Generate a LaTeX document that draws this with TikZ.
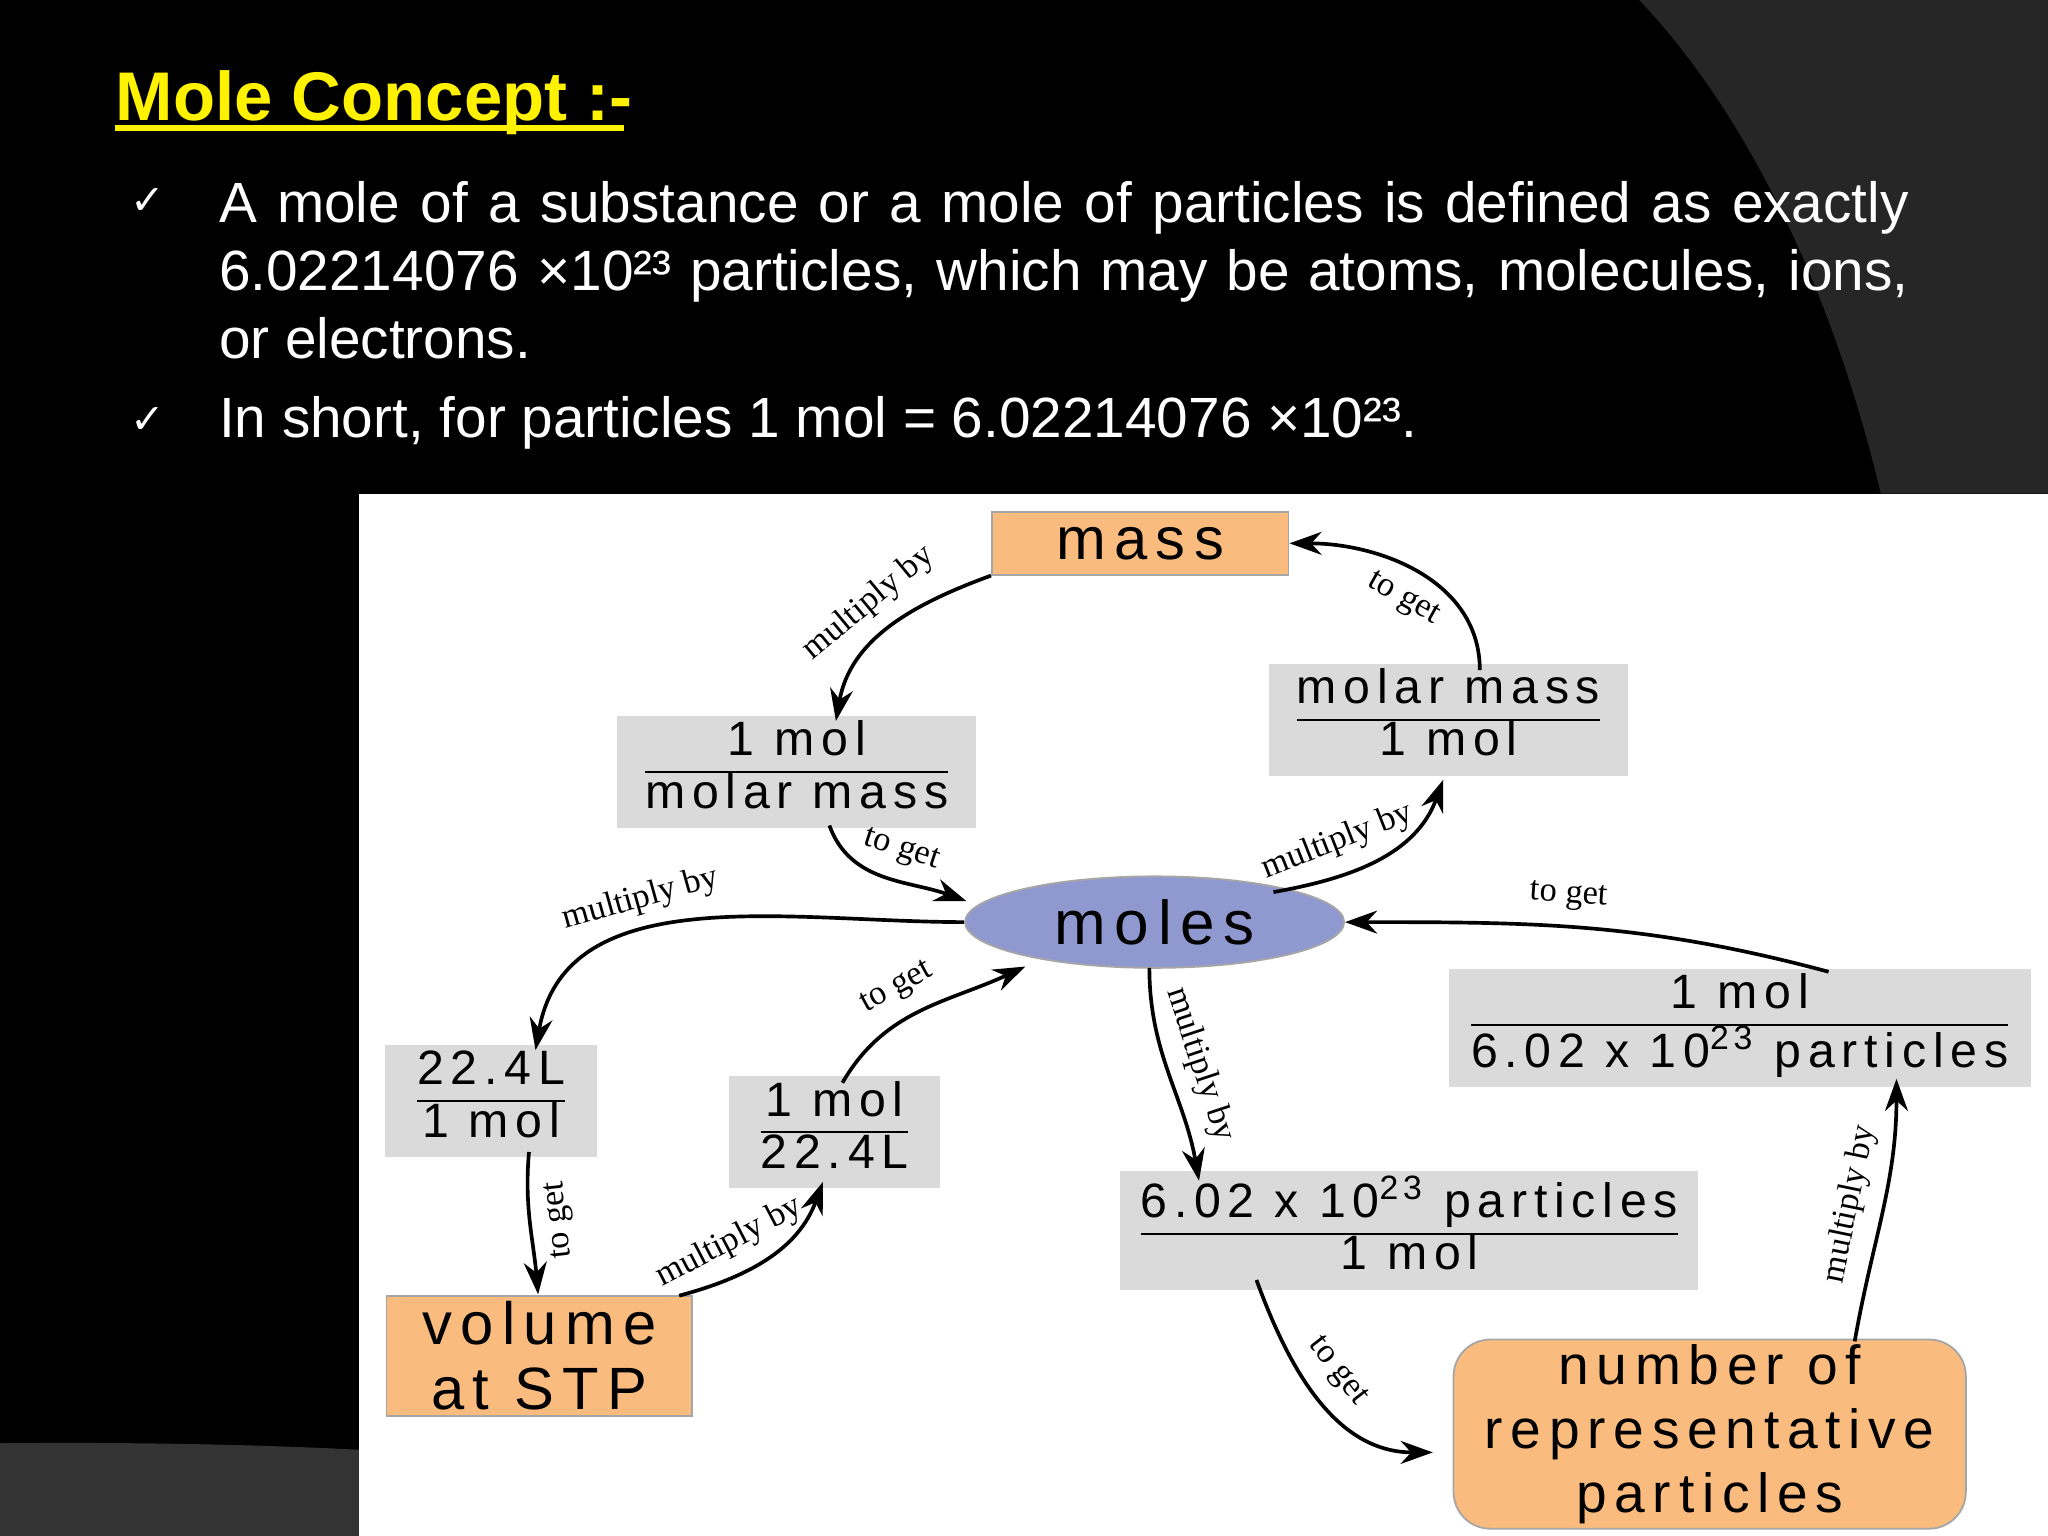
\documentclass[tikz,border=0pt]{standalone}
\usepackage{fontspec}
\setmainfont{Liberation Sans}
\newfontfamily\djsans{DejaVu Sans}
\newfontfamily\lserif{Liberation Serif}
\newfontfamily\spaced[LetterSpace=14]{Liberation Sans}
\usetikzlibrary{arrows.meta,shapes.geometric}
\definecolor{orng}{HTML}{F9BC7E}
\definecolor{gbox}{HTML}{DADADA}
\definecolor{ell}{HTML}{9099CF}
\begin{document}
\begin{tikzpicture}[x=0.01cm,y=-0.01cm,
  obox/.style={draw=gray!70,fill=orng,font=\spaced\fontsize{13}{14}\selectfont,inner sep=1pt},
  fbox/.style={fill=gbox,font=\spaced\fontsize{10.5}{11}\selectfont,inner sep=1pt},
  arr/.style={-{Stealth[length=7pt,width=5pt]},line width=0.8pt},
  lab/.style={font=\lserif\fontsize{7.5}{8}\selectfont,sloped,above}]
\fill[black] (0,0) rectangle (1568,1176);
\useasboundingbox (0,0) rectangle (1568,1176);
\fill[black!85] (1255,0) .. controls (1350,100) and (1410,250) .. (1440,378) -- (1568,378) -- (1568,0) -- cycle;
\fill[black!80] (0,1105) .. controls (100,1104) and (200,1106) .. (275,1110) -- (275,1176) -- (0,1176) -- cycle;
\node[anchor=base west,text=yellow,font=\bfseries\fontsize{15}{18}\selectfont,inner sep=0] (title) at (88,92) {Mole Concept :-};
\draw[yellow,line width=1.5pt] (88,98) -- (478,98);
\node[anchor=base,text=white,font=\djsans\fontsize{9}{10}\selectfont] (c1) at (113,164) {✓};
\node[anchor=base,text=white,font=\djsans\fontsize{9}{10}\selectfont] (c2) at (113,332) {✓};
\node[anchor=north west,text=white,text width=12.93cm,align=justify,inner sep=0,font=\fontsize{12.35}{14.8}\selectfont] (t1) at (167,138) {A mole of a substance or a mole of particles is defined as exactly 6.02214076 ×10²³ particles, which may be atoms, molecules, ions, or electrons.};
\node[anchor=base west,text=white,inner sep=0,font=\fontsize{12.35}{14.8}\selectfont] (t2) at (167,335) {In short, for particles 1 mol = 6.02214076 ×10²³.};
\fill[white] (275,378) rectangle (1568,1176);
% nodes
\node[obox,minimum width=2.27cm,minimum height=0.48cm] (mass) at (873,416) {mass};
\node[fbox,minimum width=2.75cm,minimum height=0.77cm] (fl) at (610,591) {\begin{tabular}{@{}c@{}}1 mol\\\hline molar mass\end{tabular}};
\node[fbox,minimum width=2.75cm,minimum height=0.77cm] (fr) at (1109,551) {\begin{tabular}{@{}c@{}}molar mass\\\hline 1 mol\end{tabular}};
\node[draw=gray!70,fill=ell,ellipse,minimum width=2.9cm,minimum height=0.7cm,inner sep=0,font=\spaced\fontsize{13.5}{14}\selectfont] (moles) at (884,706) {moles};
\node[fbox,minimum width=1.62cm,minimum height=0.77cm] (va) at (376,843) {\begin{tabular}{@{}c@{}}22.4L\\\hline 1 mol\end{tabular}};
\node[fbox,minimum width=1.62cm,minimum height=0.75cm] (vb) at (639,867) {\begin{tabular}{@{}c@{}}1 mol\\\hline 22.4L\end{tabular}};
\node[obox,minimum width=2.34cm,minimum height=0.92cm,align=center,font=\spaced\fontsize{13}{14}\selectfont] (vol) at (413,1038) {volume\\at STP};
\node[fbox,minimum width=4.42cm,minimum height=0.75cm] (pa) at (1079,942) {\begin{tabular}{@{}c@{}}6.02 x 10\textsuperscript{23} particles\\\hline 1 mol\end{tabular}};
\node[fbox,minimum width=4.45cm,minimum height=0.78cm] (pb) at (1332,787) {\begin{tabular}{@{}c@{}}1 mol\\\hline 6.02 x 10\textsuperscript{23} particles\end{tabular}};
\node[obox,rounded corners=8pt,minimum width=3.92cm,minimum height=1.4cm,align=center,font=\spaced\fontsize{12}{14}\selectfont] (num) at (1309,1098) {number of\\representative\\particles};
% arrows
\draw[arr] (mass.south west) to[out=200,in=80] node[lab,pos=0.5]{multiply by} (640,552);
\draw[arr] (635,632) to[out=-70,in=160] node[lab,pos=0.55]{to get} (740,690);
\draw[arr] (975,683) to[out=10,in=-110] node[lab,pos=0.35]{multiply by} (1105,597);
\draw[arr] (1133,513) to[out=90,in=0] node[lab,pos=0.5,below]{to get} (mass.east);
\draw[arr] (moles.west) to[out=180,in=80] node[lab,pos=0.6]{multiply by} (410,804);
\draw[arr] (405,882) to[out=-95,in=95] node[lab,pos=0.5,below,rotate=180]{to get} (412,991);
\draw[arr] (520,992) to[out=15,in=-110] node[lab,pos=0.35]{multiply by} (630,905);
\draw[arr] (645,829) to[out=60,in=205] node[lab,pos=0.45]{to get} (785,740);
\draw[arr] (880,741) to[out=-90,in=100] node[lab,pos=0.5]{multiply by} (918,904);
\draw[arr] (962,980) to[out=-70,in=180] node[lab,pos=0.45]{to get} (1097,1112);
\draw[arr] (1420,1027) to[out=80,in=-90] node[lab,pos=0.5]{multiply by} (1452,826);
\draw[arr] (1400,744) to[out=165,in=0] node[lab,pos=0.55]{to get} (moles.east);
\end{tikzpicture}
\end{document}
